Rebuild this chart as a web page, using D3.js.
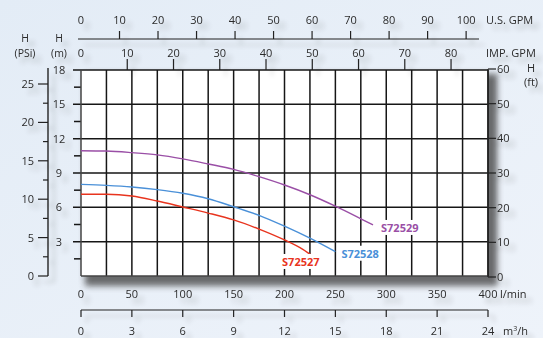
<!DOCTYPE html>
<html><head><meta charset="utf-8">
<script src="https://cdn.jsdelivr.net/npm/d3@7"></script>
<style>
html,body{margin:0;padding:0;overflow:hidden;}
svg{display:block;}
text{font-family:"Open Sans",sans-serif;font-size:11px;fill:#2b2b2b;}
</style></head>
<body>
<script>
// ---- data ----
const flowTicksLpm = [0,50,100,150,200,250,300,350,400];
const flowTicksM3h = [0,3,6,9,12,15,18,21,24];
const usGpmTicks = [0,10,20,30,40,50,60,70,80,90,100];
const impGpmTicks = [0,10,20,30,40,50,60,70,80];
const headTicksM = [3,6,9,12,15,18];
const headTicksPsi = [0,5,10,15,20,25];
const headTicksFt = [0,10,20,30,40,50,60];

const seriesNames = ["S72527","S72528","S72529"];
const seriesColors = ["#e8341e","#4a90d8","#9a4fa6"];
const s72527Flow = [0,25,50,75,100,125,150,175,200,218,227.6];
const s72527Head = [7.14,7.14,6.99,6.55,6.03,5.5,4.9,4.1,3.15,2.33,1.75];
const s72528Flow = [0,25,50,75,100,125,150,175,200,225,250];
const s72528Head = [8.01,7.92,7.78,7.55,7.23,6.75,6.05,5.3,4.35,3.3,2.12];
const s72529Flow = [0,25,50,75,100,125,150,175,200,225,250,275,287];
const s72529Head = [10.95,10.92,10.78,10.58,10.23,9.79,9.32,8.68,7.95,7.1,6.1,5.0,4.46];

// ---- layout ----
const W = 543, H = 338;
const L = 81, R = 488, T = 70, B = 276;

const svg = d3.select("body").append("svg").attr("width", W).attr("height", H);
const defs = svg.append("defs");
const bg = defs.append("linearGradient").attr("id","bg").attr("x1","0").attr("x2","1").attr("y1","0").attr("y2","1");
bg.append("stop").attr("offset","0").attr("stop-color","#e3ecf6");
bg.append("stop").attr("offset","1").attr("stop-color","#eef3fa");
const f = defs.append("filter").attr("id","sh").attr("x","-50%").attr("y","-50%").attr("width","200%").attr("height","200%");
f.append("feGaussianBlur").attr("in","SourceAlpha").attr("stdDeviation",2.5).attr("result","b");
f.append("feOffset").attr("in","b").attr("dx",6).attr("dy",6).attr("result","o");
f.append("feComponentTransfer").attr("in","o").attr("result","oa").append("feFuncA").attr("type","linear").attr("slope",0.22);
const fm = f.append("feMerge"); fm.append("feMergeNode").attr("in","oa"); fm.append("feMergeNode").attr("in","SourceGraphic");
const ps = defs.append("filter").attr("id","psh").attr("x","-20%").attr("y","-20%").attr("width","140%").attr("height","140%");
ps.append("feGaussianBlur").attr("stdDeviation",3);

svg.append("rect").attr("width",W).attr("height",H).attr("fill","url(#bg)");

// scales
const x = d3.scaleLinear().domain([0,400]).range([L,R]);
const xM3 = d3.scaleLinear().domain([0,24]).range([L,R]);
const xUS = d3.scaleLinear().domain([0,400/3.785]).range([L,R]);
const xIMP = d3.scaleLinear().domain([0,400/4.546]).range([L,R]);
const y = d3.scaleLinear().domain([0,18]).range([B,T]);
const yFt = d3.scaleLinear().domain([0,60]).range([B+1,T-1]);
const yPsi = d3.scaleLinear().domain([0,25]).range([B,84]);

// plot shadow + background
svg.append("rect").attr("x",L+4).attr("y",T+4).attr("width",R-L+5).attr("height",B-T+6)
  .attr("fill","#4a4a4a").attr("opacity",0.8).attr("filter","url(#psh)");
svg.append("rect").attr("x",L).attr("y",T).attr("width",R-L).attr("height",B-T).attr("fill","#fff");

// grid
const grid = svg.append("g").attr("stroke","#161616").attr("stroke-width",1.5);
grid.selectAll(".v").data(d3.range(25,401,25)).join("line")
  .attr("x1",d=>x(d)).attr("x2",d=>x(d)).attr("y1",T).attr("y2",B);
grid.selectAll(".h").data(headTicksM).join("line")
  .attr("x1",L-8).attr("x2",R).attr("y1",d=>y(d)).attr("y2",d=>y(d));
grid.selectAll(".m").data(d3.range(1.5,18,3)).join("line")
  .attr("x1",L-7).attr("x2",L).attr("y1",d=>y(d)).attr("y2",d=>y(d));
grid.append("line").attr("x1",L).attr("x2",L).attr("y1",T).attr("y2",B).attr("stroke","#444");
grid.append("line").attr("x1",L).attr("x2",R).attr("y1",B).attr("y2",B).attr("stroke","#444");

// curves
const flows = [s72527Flow,s72528Flow,s72529Flow];
const heads = [s72527Head,s72528Head,s72529Head];
const line = d3.line().x(d=>x(d[0])).y(d=>y(d[1])).curve(d3.curveMonotoneX);
seriesNames.forEach((n,i)=>{
  const pts = flows[i].map((q,j)=>[q,heads[i][j]]);
  svg.append("path").attr("d",line(pts)).attr("fill","none")
    .attr("stroke",seriesColors[i]).attr("stroke-width",1.4);
});
// series labels
const labOff = [[7,10,"end"],[6,6,"start"],[8,7,"start"]];
seriesNames.forEach((n,i)=>{
  const fl = flows[i], hd = heads[i];
  const px = x(fl[fl.length-1]) + labOff[i][0];
  const py = y(hd[hd.length-1]) + labOff[i][1];
  const g = svg.append("g");
  const t = g.append("text").attr("x",px).attr("y",py).attr("text-anchor",labOff[i][2])
    .style("font-weight","bold").style("font-size","11px").style("fill",seriesColors[i]).text(n);
  const bb = t.node().getBBox();
  g.insert("rect","text").attr("x",bb.x-2).attr("y",bb.y).attr("width",bb.width+4).attr("height",bb.height).attr("fill","#fff");
});

// text layer with soft shadows
const tx = svg.append("g").attr("filter","url(#sh)");

// top US GPM axis
tx.append("line").attr("x1",78).attr("x2",479).attr("y1",39).attr("y2",39).attr("stroke","#222").attr("stroke-width",1.2);
tx.selectAll(".ust").data(usGpmTicks.filter(d=>d>0)).join("line")
  .attr("x1",d=>xUS(d)).attr("x2",d=>xUS(d)).attr("y1",31).attr("y2",39).attr("stroke","#222").attr("stroke-width",1.2);
tx.selectAll(".usl").data(usGpmTicks).join("text")
  .attr("x",d=>xUS(d)).attr("y",24).attr("text-anchor","middle").text(d=>d);
tx.append("text").attr("x",486).attr("y",24).text("U.S. GPM");

// IMP GPM axis
tx.selectAll(".imt").data(impGpmTicks.filter(d=>d>0)).join("line")
  .attr("x1",d=>xIMP(d)).attr("x2",d=>xIMP(d)).attr("y1",59).attr("y2",T).attr("stroke","#222").attr("stroke-width",1.2);
tx.selectAll(".iml").data(impGpmTicks).join("text")
  .attr("x",d=>xIMP(d)).attr("y",57).attr("text-anchor","middle").text(d=>d);
tx.append("text").attr("x",486).attr("y",57).text("IMP. GPM");

// left PSi axis
tx.append("line").attr("x1",48).attr("x2",48).attr("y1",68).attr("y2",B).attr("stroke","#222").attr("stroke-width",1.4);
tx.selectAll(".pt").data(headTicksPsi).join("line")
  .attr("x1",38).attr("x2",48).attr("y1",d=>yPsi(d)).attr("y2",d=>yPsi(d)).attr("stroke","#222").attr("stroke-width",1.2);
tx.selectAll(".pm").data(d3.range(2.5,25,5)).join("line")
  .attr("x1",43).attr("x2",48).attr("y1",d=>yPsi(d)).attr("y2",d=>yPsi(d)).attr("stroke","#222").attr("stroke-width",1.2);
tx.selectAll(".pl").data(headTicksPsi).join("text")
  .attr("x",34).attr("y",d=>yPsi(d)+4).attr("text-anchor","end").text(d=>d);
tx.append("text").attr("x",25).attr("y",42).attr("text-anchor","middle").style("font-size","10.5px").text("H");
tx.append("text").attr("x",25).attr("y",57).attr("text-anchor","middle").style("font-size","10.5px").text("(PSi)");

// m labels
tx.selectAll(".ml").data(headTicksM).join("text")
  .attr("x",59).attr("y",d=>y(d)+4).attr("text-anchor","middle").text(d=>d);
tx.append("text").attr("x",59).attr("y",42).attr("text-anchor","middle").style("font-size","10.5px").text("H");
tx.append("text").attr("x",59).attr("y",57).attr("text-anchor","middle").style("font-size","10.5px").text("(m)");

// right ft axis
tx.append("line").attr("x1",R).attr("x2",R).attr("y1",T-1).attr("y2",B+1).attr("stroke","#222").attr("stroke-width",1.4);
tx.selectAll(".ft").data(headTicksFt).join("line")
  .attr("x1",R).attr("x2",R+8).attr("y1",d=>yFt(d)).attr("y2",d=>yFt(d)).attr("stroke","#222").attr("stroke-width",1.2);
tx.selectAll(".fl").data(headTicksFt).join("text")
  .attr("x",R+9).attr("y",d=>yFt(d)+4).text(d=>d);
tx.append("text").attr("x",531).attr("y",72).attr("text-anchor","middle").text("H");
tx.append("text").attr("x",531).attr("y",86).attr("text-anchor","middle").text("(ft)");

// bottom l/min labels
tx.selectAll(".ll").data(flowTicksLpm).join("text")
  .attr("x",d=>x(d)).attr("y",298).attr("text-anchor","middle").text(d=>d);
tx.append("text").attr("x",500).attr("y",298).text("l/min");

// m3/h axis
tx.append("line").attr("x1",L).attr("x2",R).attr("y1",310).attr("y2",310).attr("stroke","#222").attr("stroke-width",1.2);
tx.selectAll(".m3t").data(flowTicksM3h).join("line")
  .attr("x1",d=>xM3(d)).attr("x2",d=>xM3(d)).attr("y1",310).attr("y2",317).attr("stroke","#222").attr("stroke-width",1.2);
tx.selectAll(".m3l").data(flowTicksM3h).join("text")
  .attr("x",d=>xM3(d)).attr("y",335).attr("text-anchor","middle").text(d=>d);
const mt = tx.append("text").attr("x",503).attr("y",335);
mt.append("tspan").text("m");
mt.append("tspan").attr("dy",-4).style("font-size","7px").text("3");
mt.append("tspan").attr("dy",4).text("/h");
</script>
</body></html>
